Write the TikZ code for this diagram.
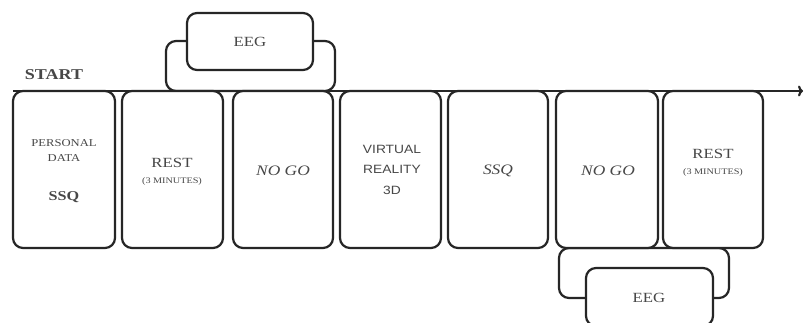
\documentclass[tikz,border=0pt]{standalone}
\usepackage{fontspec}
\setmainfont[FakeStretch=1.2]{Liberation Serif}
\newfontfamily\armf[FakeStretch=1.15]{Liberation Sans}
\usetikzlibrary{arrows.meta}
\begin{document}
\begin{tikzpicture}[x=1pt,y=-1pt,
  box/.style={draw=black!85, line width=2.2pt, rounded corners=10pt, fill=white, inner sep=0pt},
  txt/.style={text=black!72, inner sep=0pt, align=center},
  big/.style={txt, font=\fontsize{14}{16}\selectfont},
  small/.style={txt, font=\fontsize{10.5}{12}\selectfont},
  tiny/.style={txt, font=\fontsize{8.5}{10}\selectfont},
  sans/.style={txt, font=\armf\fontsize{12}{14}\selectfont}]
\clip (0,0) rectangle (804,323);
\fill[white] (0,0) rectangle (804,323);

% top EEG
\node[box, minimum width=169pt, minimum height=50pt] (eegTo) at (250.5,66) {};
\node[box, minimum width=126pt, minimum height=57pt] (eegTi) at (250,41.5) {};
\node[big] (eegTt) at (250,42) {EEG};

% bottom EEG
\node[box, minimum width=170pt, minimum height=50pt] (eegBo) at (644,273) {};
\node[box, minimum width=127pt, minimum height=58pt] (eegBi) at (649.5,297) {};
\node[big] (eegBt) at (649,298) {EEG};

% boxes
\node[box, minimum width=102pt, minimum height=157pt] (b1) at (64,169.5) {};
\node[box, minimum width=101pt, minimum height=157pt] (b2) at (172.5,169.5) {};
\node[box, minimum width=100pt, minimum height=157pt] (b3) at (283,169.5) {};
\node[box, minimum width=101pt, minimum height=157pt] (b4) at (390.5,169.5) {};
\node[box, minimum width=100pt, minimum height=157pt] (b5) at (498,169.5) {};
\node[box, minimum width=102pt, minimum height=157pt] (b6) at (607,169.5) {};
\node[box, minimum width=100pt, minimum height=157pt] (b7) at (713,169.5) {};

% timeline
\coordinate (ts) at (13,91);
\coordinate (te) at (803,91);
\draw[line width=2.2pt, draw=black!85, -{To[length=5pt,width=11pt]}] (ts) -- (te);
\node[big, font=\bfseries\fontsize{15}{17}\selectfont] (start) at (54,75) {START};

% texts
\node[small] (t1a) at (64,143) {PERSONAL};
\node[small] (t1b) at (64,158) {DATA};
\node[big, font=\bfseries\fontsize{13.5}{16}\selectfont] (t1c) at (64,197) {SSQ};
\node[big] (t2a) at (172,163) {REST};
\node[tiny] (t2b) at (172,181) {(3 MINUTES)};
\node[big, font=\itshape\fontsize{14.5}{16}\selectfont] (t3) at (283,171) {NO GO};
\node[sans] (t4a) at (392,149) {VIRTUAL};
\node[sans] (t4b) at (392,169) {REALITY};
\node[sans] (t4c) at (392,190) {3D};
\node[big, font=\itshape\fontsize{14.5}{16}\selectfont] (t5) at (498,171) {SSQ};
\node[big, font=\itshape\fontsize{14.5}{16}\selectfont] (t6) at (608,171) {NO GO};
\node[big] (t7a) at (713,154) {REST};
\node[tiny] (t7b) at (713,172) {(3 MINUTES)};
\end{tikzpicture}
\end{document}
